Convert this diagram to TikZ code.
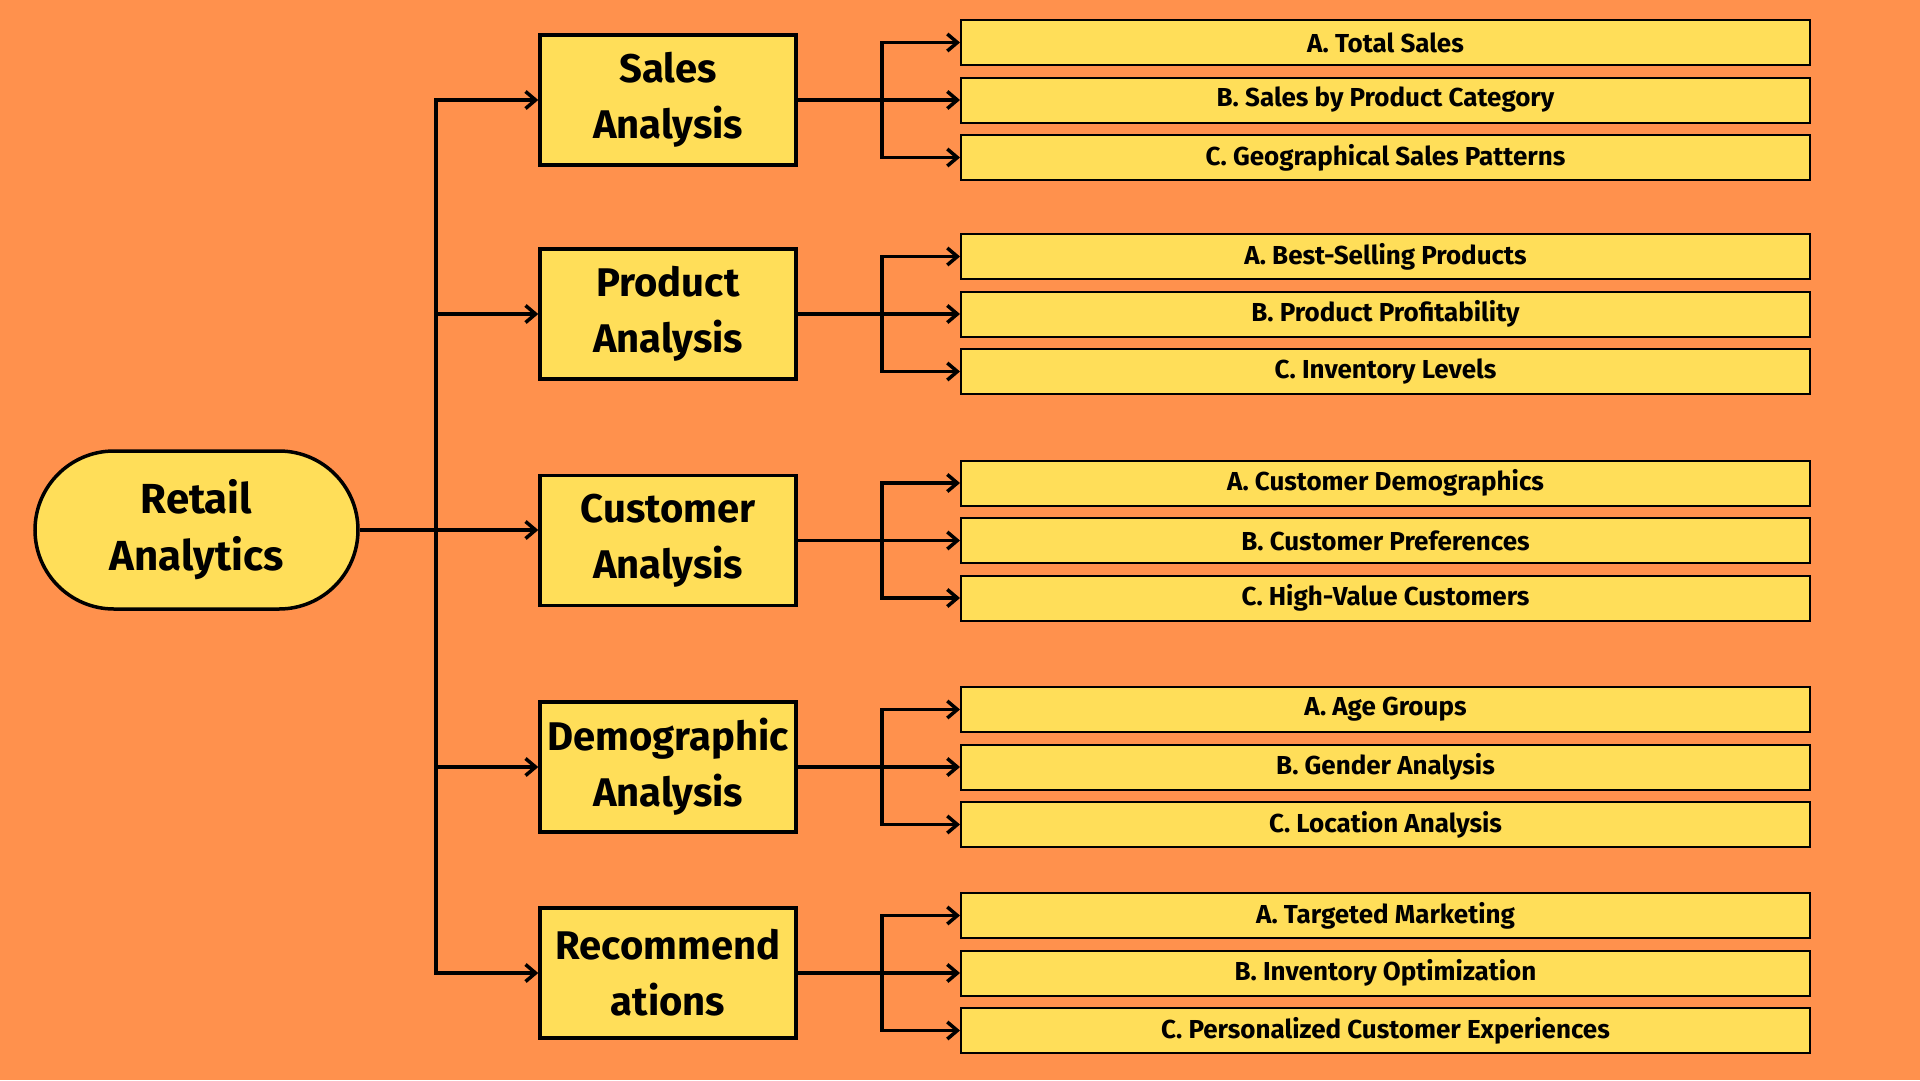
\documentclass[tikz,border=0pt]{standalone}
\usepackage{fontspec}
\setmainfont{Fira Sans}
\usetikzlibrary{arrows.meta,shapes.misc}
\definecolor{bgorange}{RGB}{255,145,77}
\definecolor{boxyellow}{RGB}{255,222,89}

\begin{document}
\begin{tikzpicture}[x=1pt,y=-1pt,topic/.style={shape=rectangle,draw=black,line width=3.5pt,fill=boxyellow,minimum width=256pt,minimum height=130pt,inner sep=0pt,align=center,font=\fontsize{40}{56}\selectfont\bfseries},item/.style={shape=rectangle,draw=black,line width=2pt,fill=boxyellow,minimum width=849pt,minimum height=45pt,inner sep=0pt,font=\fontsize{26}{30}\selectfont\bfseries},rootR/.style={shape=rounded rectangle,draw=black,line width=3.5pt,fill=boxyellow,minimum width=323pt,minimum height=158pt,inner sep=0pt,align=center,font=\fontsize{42}{57}\selectfont\bfseries},arr/.style={line width=3.5pt,-{Straight Barb[length=10pt,width=17pt]}}]
\def\mx{668};
\def\lx{1385.5};
\def\dy{57.5};
\def\ys{100};
\def\yp{314};
\def\yc{540.5};
\def\yd{767};
\def\yr{973};

\fill[bgorange] (0,0) rectangle (1920,1080);

\node[rootR] (retail) at (196.5,530) {Retail\\Analytics};
\coordinate (fork) at (436,530);

\node[topic] (sales) at (\mx,\ys) {Sales\\Analysis};
\node[topic] (product) at (\mx,\yp) {Product\\Analysis};
\node[topic] (customer) at (\mx,\yc) {Customer\\Analysis};
\node[topic] (demo) at (\mx,\yd) {Demographic\\Analysis};
\node[topic] (recom) at (\mx,\yr) {Recommend\\ations};

\draw[arr] (retail.east) -- (retail.east -| customer.west);
\draw[arr] (fork) |- (sales.west);
\draw[arr] (fork |- product.west) -- (product.west);
\draw[arr] (fork |- demo.west) -- (demo.west);
\draw[arr] (fork) |- (recom.west);

\node[item] (s1) at (\lx,\ys-\dy) {A. Total Sales};
\node[item] (s2) at (\lx,\ys) {B. Sales by Product Category};
\node[item] (s3) at (\lx,\ys+\dy) {C. Geographical Sales Patterns};
\draw[arr] (sales.east) -- ++(84,0) |- (s1.west);
\draw[arr] (sales.east) -- (s2.west);
\draw[arr] (sales.east) -- ++(84,0) |- (s3.west);

\node[item] (p1) at (\lx,\yp-\dy) {A. Best-Selling Products};
\node[item] (p2) at (\lx,\yp) {B. Product Profitability};
\node[item] (p3) at (\lx,\yp+\dy) {C. Inventory Levels};
\draw[arr] (product.east) -- ++(84,0) |- (p1.west);
\draw[arr] (product.east) -- (p2.west);
\draw[arr] (product.east) -- ++(84,0) |- (p3.west);

\node[item] (c1) at (\lx,\yc-\dy) {A. Customer Demographics};
\node[item] (c2) at (\lx,\yc) {B. Customer Preferences};
\node[item] (c3) at (\lx,\yc+\dy) {C. High-Value Customers};
\draw[arr] (customer.east) -- ++(84,0) |- (c1.west);
\draw[arr] (customer.east) -- (c2.west);
\draw[arr] (customer.east) -- ++(84,0) |- (c3.west);

\node[item] (d1) at (\lx,\yd-\dy) {A. Age Groups};
\node[item] (d2) at (\lx,\yd) {B. Gender Analysis};
\node[item] (d3) at (\lx,\yd+\dy) {C. Location Analysis};
\draw[arr] (demo.east) -- ++(84,0) |- (d1.west);
\draw[arr] (demo.east) -- (d2.west);
\draw[arr] (demo.east) -- ++(84,0) |- (d3.west);

\node[item] (r1) at (\lx,\yr-\dy) {A. Targeted Marketing};
\node[item] (r2) at (\lx,\yr) {B. Inventory Optimization};
\node[item] (r3) at (\lx,\yr+\dy) {C. Personalized Customer Experiences};
\draw[arr] (recom.east) -- ++(84,0) |- (r1.west);
\draw[arr] (recom.east) -- (r2.west);
\draw[arr] (recom.east) -- ++(84,0) |- (r3.west);
\end{tikzpicture}
\end{document}
